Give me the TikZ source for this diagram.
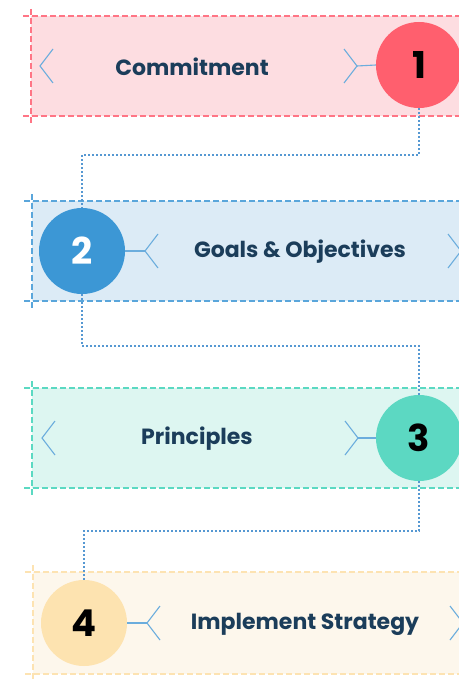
\documentclass[tikz,border=0pt]{standalone}
\usepackage{fontspec}
\setmainfont{Poppins}
\begin{document}
\begin{tikzpicture}[x=1pt,y=-1pt,
  band/.style={line width=1.1pt, dash pattern=on 6pt off 3pt},
  chev/.style={draw=chevblue, line width=1.1pt},
  link/.style={draw=linkblue, line width=2.6pt, dash pattern=on 2pt off 2pt},
  num/.style={circle, minimum size=86pt, inner sep=0pt, font=\fontsize{37}{37}\selectfont\bfseries},
  label/.style={text=navy, font=\fontsize{22}{22}\selectfont\bfseries}]
\definecolor{navy}{HTML}{1B3D5A}
\definecolor{chevblue}{HTML}{6BADDD}
\definecolor{linkblue}{HTML}{5698D2}
\definecolor{pinkfill}{HTML}{FDDDE1}
\definecolor{pinkline}{HTML}{FF7585}
\definecolor{pinkdot}{HTML}{FF5F6E}
\definecolor{bluefill}{HTML}{DCEBF6}
\definecolor{blueline}{HTML}{5AA6DB}
\definecolor{bluedot}{HTML}{3C97D5}
\definecolor{tealfill}{HTML}{DDF6F1}
\definecolor{tealline}{HTML}{5BD9C2}
\definecolor{tealdot}{HTML}{5CD8C2}
\definecolor{sandfill}{HTML}{FDF7EC}
\definecolor{sandline}{HTML}{FDE3B2}
\definecolor{sanddot}{HTML}{FDE3B0}
\useasboundingbox (0,0) rectangle (458,679);
\fill[white] (0,0) rectangle (458,679);

% bands: fill, then dashed crop-style edges
\fill[pinkfill] (31,16) rectangle (470,116);
\draw[band,pinkline] (23,16) -- (470,16) (23,116) -- (470,116) (31,9) -- (31,123);
\fill[bluefill] (32,201) rectangle (470,301);
\draw[band,blueline] (24,201) -- (470,201) (24,301) -- (470,301) (32,194) -- (32,308);
\fill[tealfill] (32,388) rectangle (470,488);
\draw[band,tealline] (24,388) -- (470,388) (24,488) -- (470,488) (32,381) -- (32,495);
\fill[sandfill] (33,572) rectangle (470,674);
\draw[band,sandline] (25,572) -- (470,572) (25,674) -- (470,674) (33,565) -- (33,685);

% step circles
\node[num, fill=pinkdot, text=black] (c1) at (419,65) {1};
\node[num, fill=bluedot, text=white] (c2) at (82,251) {2};
\node[num, fill=tealdot, text=black] (c3) at (419,438) {3};
\node[num, fill=sanddot, text=black] (c4) at (84,623) {4};

% step labels
\node[label] (t1) at (192,67) {Commitment};
\node[label] (t2) at (300,252) {Goals \& Objectives};
\node[label] (t3) at (197,439) {Principles};
\node[label] (t4) at (305,624) {Implement Strategy};

% chevrons
\draw[chev] (53,49) -- (40,66) -- (53,83);
\draw[chev] (344,49) -- (357,66) -- (344,83);
\coordinate (a1) at (357,66);
\draw[chev] (158,234) -- (145,251) -- (158,268);
\draw[chev] (448,234) -- (461,251) -- (448,268);
\coordinate (a2) at (145,251);
\draw[chev] (55,421) -- (42,438) -- (55,455);
\draw[chev] (345,421) -- (358,438) -- (345,455);
\coordinate (a3) at (358,438);
\draw[chev] (160,606) -- (147,623) -- (160,640);
\draw[chev] (450,606) -- (463,623) -- (450,640);
\coordinate (a4) at (147,623);
\draw[chev] (a1) -- (c1.west);
\draw[chev] (c2.east) -- (a2);
\draw[chev] (a3) -- (c3.west);
\draw[chev] (c4.east) -- (a4);

% connectors between steps
\coordinate (m1) at (250,155);
\coordinate (m2) at (250,346);
\coordinate (m3) at (250,531);
\draw[link] (c1.south) |- (m1) -| (c2.north);
\draw[link] (c2.south) |- (m2) -| (c3.north);
\draw[link] (c3.south) |- (m3) -| (c4.north);
\end{tikzpicture}
\end{document}
